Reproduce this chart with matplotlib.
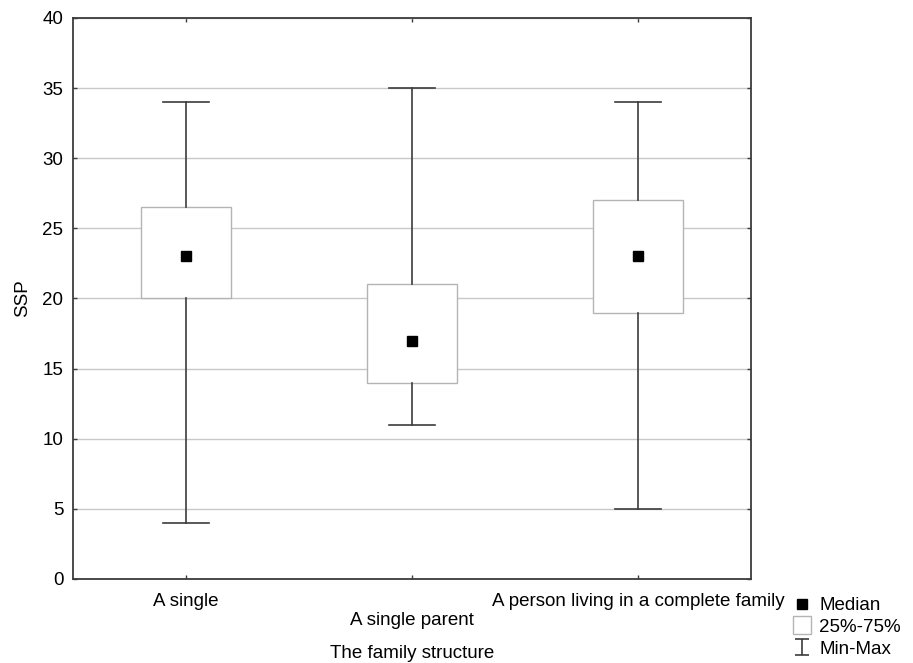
import matplotlib
matplotlib.use("Agg")
import matplotlib.pyplot as plt
from matplotlib.lines import Line2D
from matplotlib.path import Path

plt.rcParams['font.family'] = ['Liberation Sans', 'DejaVu Sans']

categories = ["A single", "A single parent", "A person living in a complete family"]
minimum = [4, 11, 5]
q1 = [20, 14, 19]
median = [23, 17, 23]
q3 = [26.5, 21, 27]
maximum = [34, 35, 34]

FS = 13.5

fig = plt.figure(figsize=(9.13, 6.63), dpi=100)
ax = fig.add_axes([0.080, 0.1267, 0.7426, 0.8462])

stats = []
for c, lo, a, m, b, hi in zip(categories, minimum, q1, median, q3, maximum):
    stats.append(dict(label=c, whislo=lo, q1=a, med=m, mean=m, q3=b, whishi=hi, fliers=[]))

positions = list(range(len(categories)))
ax.bxp(stats, positions=positions, widths=0.40, patch_artist=True,
       showmeans=True, showfliers=False,
       boxprops=dict(facecolor="white", edgecolor="#b4b4b4", linewidth=1.0),
       whiskerprops=dict(color="#3c3c3c", linewidth=1.2),
       capprops=dict(color="#3c3c3c", linewidth=1.2),
       capwidths=0.20,
       medianprops=dict(linewidth=0),
       meanprops=dict(marker="s", markerfacecolor="black", markeredgecolor="black", markersize=7),
       zorder=3)

ax.set_xlim(-0.5, 2.5)
ax.set_ylim(0, 40)
ax.set_yticks(range(0, 41, 5))
ax.yaxis.grid(True, color="#c8c8c8", linewidth=1.0, zorder=0)
ax.set_axisbelow(True)

ax.set_xticks(positions)
labels = [c if i % 2 == 0 else "\n" + c for i, c in enumerate(categories)]
ax.set_xticklabels(labels)
ax.tick_params(axis="both", direction="in", length=3, width=1, color="#3c3c3c",
               labelsize=FS, top=True, right=True)
ax.tick_params(axis="x", pad=10)
ax.tick_params(axis="y", pad=7)

for s in ax.spines.values():
    s.set_color("#3c3c3c")
    s.set_linewidth(1.3)

ax.set_xlabel("The family structure", fontsize=FS)
ax.xaxis.set_label_coords(0.5, -0.117)
ax.set_ylabel("SSP", fontsize=FS)
ax.yaxis.set_label_coords(-0.062, 0.5)

ibeam = Path([(-0.9, 1), (0.9, 1), (0, 1), (0, -1), (-0.9, -1), (0.9, -1)],
             [Path.MOVETO, Path.LINETO, Path.MOVETO, Path.LINETO, Path.MOVETO, Path.LINETO])
handles = [
    Line2D([], [], linestyle="none", marker="s", markersize=6.5, color="black"),
    Line2D([], [], linestyle="none", marker="s", markersize=12.5,
           markerfacecolor="white", markeredgecolor="#b4b4b4", markeredgewidth=1.0),
    Line2D([], [], linestyle="none", marker=ibeam, markersize=11, color="#3c3c3c",
           markeredgewidth=1.2),
]
fig.legend(handles, ["Median", "25%-75%", "Min-Max"], loc="upper left",
           bbox_to_anchor=(0.8686, 0.0995), frameon=False, fontsize=FS,
           handlelength=1.0, handletextpad=0.4, labelspacing=0.25,
           borderpad=0, borderaxespad=0)

fig.savefig("out.png", dpi=100)
